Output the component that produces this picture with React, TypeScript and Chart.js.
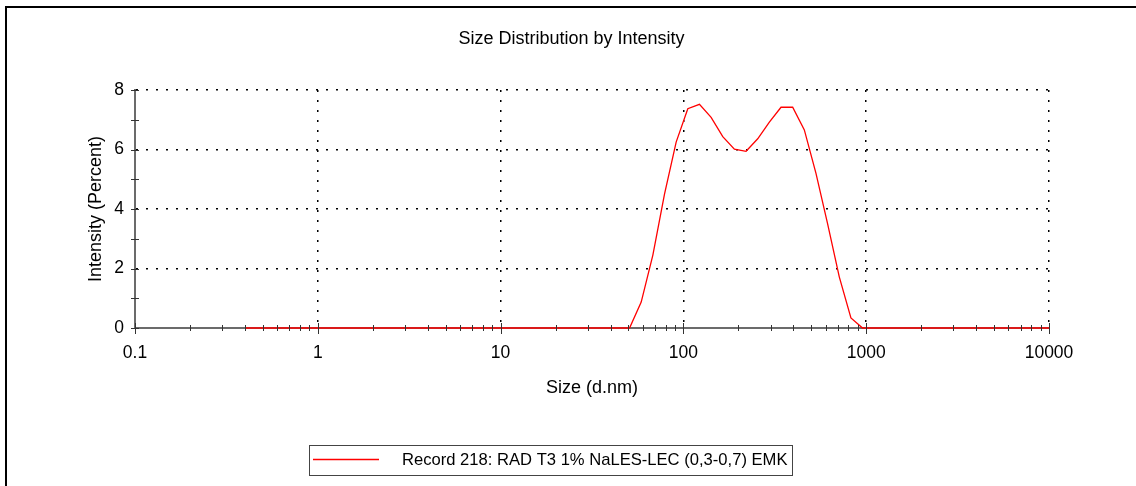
import React, { useEffect, useRef } from 'react';
import { Chart, registerables } from 'chart.js';

Chart.register(...registerables);

// ---- data ----
const sizes = [
  0.4, 0.4632, 0.5365, 0.6213, 0.7195, 0.8332, 0.9649, 1.117, 1.294, 1.499,
  1.736, 2.01, 2.328, 2.696, 3.122, 3.615, 4.187, 4.849, 5.615, 6.503,
  7.531, 8.721, 10.1, 11.7, 13.54, 15.69, 18.17, 21.04, 24.36, 28.21,
  32.67, 37.84, 43.82, 50.75, 58.77, 68.06, 78.82, 91.28, 105.7, 122.4,
  141.8, 164.2, 190.1, 220.2, 255.0, 295.3, 342.0, 396.1, 458.7, 531.2,
  615.1, 712.4, 825.0, 955.4, 1106, 1281, 1484, 1718, 1990, 2305,
  2669, 3091, 3580, 4145, 4801, 5560, 6439, 7456, 8635, 10000,
];
const intensities = [
  0, 0, 0, 0, 0, 0, 0, 0, 0, 0,
  0, 0, 0, 0, 0, 0, 0, 0, 0, 0,
  0, 0, 0, 0, 0, 0, 0, 0, 0, 0,
  0, 0, 0, 0, 0.87, 2.45, 4.5, 6.25, 7.37, 7.52,
  7.08, 6.43, 6.01, 5.94, 6.36, 6.92, 7.42, 7.42, 6.66, 5.2,
  3.5, 1.72, 0.34, 0, 0, 0, 0, 0, 0, 0,
  0, 0, 0, 0, 0, 0, 0, 0, 0, 0,
];
const xDecades = [0.1, 1, 10, 100, 1000, 10000];
const xDecadeLabels = ['0.1', '1', '10', '100', '1000', '10000'];
const xMinorSteps = [1, 2, 3, 4, 5, 6, 7, 8, 9];
const yTickValues = [0, 1, 2, 3, 4, 5, 6, 7, 8];
const yLabeledTicks = [0, 2, 4, 6, 8];

const chartTitle = 'Size Distribution by Intensity';
const xAxisTitle = 'Size (d.nm)';
const yAxisTitle = 'Intensity (Percent)';
const seriesLabel = 'Record 218: RAD T3 1% NaLES-LEC (0,3-0,7) EMK';

// ---- helpers ----
const FONT = '"Liberation Sans", Arial, Helvetica, sans-serif';
const TRANSPARENT = 'rgba(0,0,0,0)';

const xTickValues: number[] = [];
xDecades.slice(0, -1).forEach((d) => xMinorSteps.forEach((m) => xTickValues.push(+(d * m).toPrecision(6))));
xTickValues.push(xDecades[xDecades.length - 1]);

const decadeIndex = (v: number) => xDecades.findIndex((d) => Math.abs(v - d) / d < 1e-6);

const tickMarksPlugin = {
  id: 'tickMarks',
  afterDatasetsDraw(chart: any) {
    const { ctx, chartArea } = chart;
    const x = chart.scales.x;
    const y = chart.scales.y;
    ctx.save();
    ctx.strokeStyle = '#333';
    ctx.lineWidth = 1;
    ctx.beginPath();
    x.ticks.forEach((t: any) => {
      const px = Math.round(x.getPixelForValue(t.value)) + 0.5;
      const major = decadeIndex(t.value) >= 0;
      ctx.moveTo(px, chartArea.bottom - (major ? 5 : 3));
      ctx.lineTo(px, chartArea.bottom + (major ? 6 : 3));
    });
    y.ticks.forEach((t: any) => {
      const py = Math.round(y.getPixelForValue(t.value)) + 0.5;
      ctx.moveTo(chartArea.left - 4, py);
      ctx.lineTo(chartArea.left + 4, py);
    });
    ctx.stroke();
    ctx.restore();
  },
};

const legendBoxPlugin = {
  id: 'legendBox',
  afterDraw(chart: any) {
    const { ctx } = chart;
    const ds = chart.data.datasets[0];
    ctx.save();
    ctx.strokeStyle = '#444';
    ctx.lineWidth = 1;
    ctx.strokeRect(309.5, 445.5, 483, 30);
    ctx.strokeStyle = ds.borderColor;
    ctx.lineWidth = 1.3;
    ctx.beginPath();
    ctx.moveTo(313, 459.5);
    ctx.lineTo(379, 459.5);
    ctx.stroke();
    ctx.fillStyle = '#000';
    ctx.font = `16.6px ${FONT}`;
    ctx.textBaseline = 'middle';
    ctx.textAlign = 'left';
    ctx.fillText(ds.label, 402, 460);
    ctx.restore();
  },
};

export default function App() {
  const ref = useRef<HTMLCanvasElement>(null);

  useEffect(() => {
    const canvas = ref.current;
    if (!canvas) return;
    const tickFont = { family: FONT, size: 17.5, weight: 'normal' as const };
    const titleFont = { family: FONT, size: 18, weight: 'normal' as const };
    const chart = new Chart(canvas, {
      type: 'line',
      data: {
        datasets: [
          {
            label: seriesLabel,
            data: sizes.map((s, i) => ({ x: s, y: intensities[i] })),
            borderColor: '#ff0000',
            borderWidth: 1.3,
            pointRadius: 0,
            tension: 0,
            fill: false,
            clip: false as any,
          },
        ],
      },
      options: {
        responsive: false,
        animation: false,
        events: [],
        layout: { padding: { left: 94, right: 87, top: 10, bottom: 78 } },
        plugins: {
          legend: { display: false },
          tooltip: { enabled: false },
          title: {
            display: true,
            text: chartTitle,
            color: '#000',
            font: titleFont,
            padding: { top: 18.3, bottom: 40.1 },
          },
        },
        scales: {
          x: {
            type: 'logarithmic',
            min: 0.1,
            max: 10000,
            afterBuildTicks: (scale: any) => {
              scale.ticks = xTickValues.map((v) => ({ value: v }));
            },
            afterFit: (scale: any) => {
              scale.height = 80;
            },
            ticks: {
              autoSkip: false,
              maxRotation: 0,
              minRotation: 0,
              padding: 14.5,
              color: '#000',
              font: tickFont,
              callback: (v: any) => {
                const i = decadeIndex(Number(v));
                return i >= 0 ? xDecadeLabels[i] : '';
              },
            },
            grid: {
              drawTicks: false,
              lineWidth: 1.5,
              color: (c: any) => {
                const v = c.tick ? c.tick.value : NaN;
                const i = decadeIndex(v);
                return i > 0 ? '#000' : TRANSPARENT;
              },
            },
            border: { display: true, color: '#6b6b6b', width: 2, dash: [2, 8] },
            title: {
              display: true,
              text: xAxisTitle,
              color: '#000',
              font: titleFont,
              padding: { top: 0, bottom: 9.2 },
            },
          },
          y: {
            type: 'linear',
            min: 0,
            max: 8,
            afterBuildTicks: (scale: any) => {
              scale.ticks = yTickValues.map((v) => ({ value: v }));
            },
            afterFit: (scale: any) => {
              scale.width = 41;
            },
            ticks: {
              autoSkip: false,
              padding: 11,
              color: '#000',
              font: tickFont,
              callback: (v: any) => (yLabeledTicks.includes(Number(v)) ? String(v) : ''),
            },
            grid: {
              drawTicks: false,
              lineWidth: 1.5,
              color: (c: any) => {
                const v = c.tick ? c.tick.value : NaN;
                return yLabeledTicks.includes(v) && v > 0 ? '#000' : TRANSPARENT;
              },
            },
            border: { display: true, color: '#6b6b6b', width: 2, dash: [2, 8] },
            title: {
              display: true,
              text: yAxisTitle,
              color: '#000',
              font: titleFont,
              padding: { top: -8.8, bottom: 0 },
            },
          },
        },
      } as any,
      plugins: [tickMarksPlugin, legendBoxPlugin],
    });
    return () => chart.destroy();
  }, []);

  return (
    <div
      style={{
        position: 'absolute',
        left: 0,
        top: 0,
        width: 1136,
        height: 486,
        overflow: 'hidden',
        background: '#fff',
      }}
    >
      <canvas ref={ref} width={1136} height={486} style={{ display: 'block', width: 1136, height: 486 }} />
      <div
        style={{
          position: 'absolute',
          left: 5,
          top: 6,
          width: 2000,
          height: 2000,
          borderLeft: '2px solid #000',
          borderTop: '2px solid #000',
          pointerEvents: 'none',
        }}
      />
    </div>
  );
}
